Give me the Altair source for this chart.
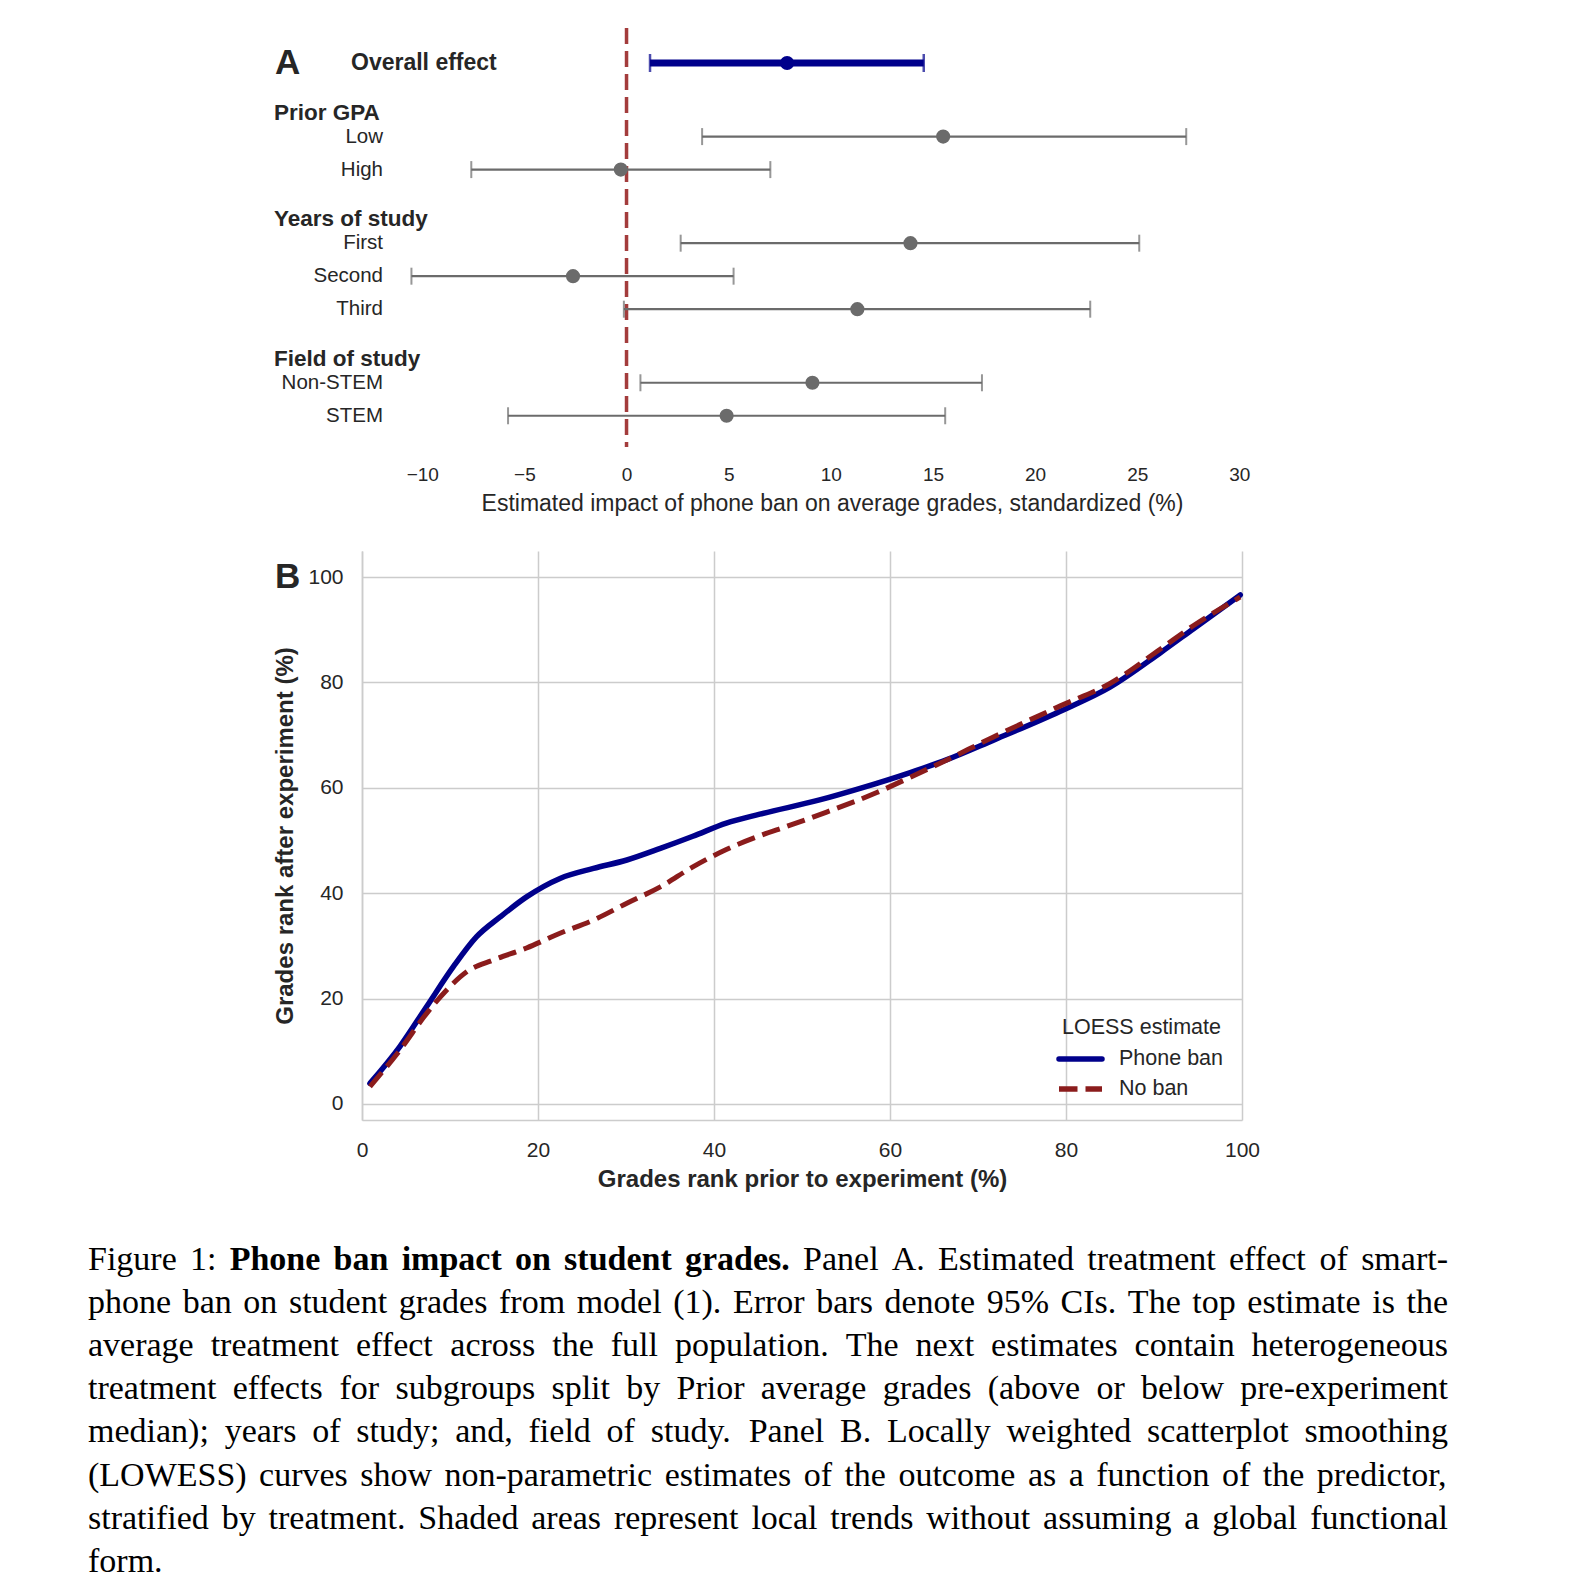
import altair as alt
import pandas as pd

# ---------------- Panel A data ----------------
overall_label = "Overall effect"
overall_est = 7.86
overall_lo = 1.15
overall_hi = 14.55

group_names = ["Prior GPA", "Years of study", "Field of study"]
group_rows = [["Low", "High"], ["First", "Second", "Third"], ["Non-STEM", "STEM"]]
group_est = [[15.5, -0.28], [13.9, -2.62, 11.3], [9.1, 4.9]]
group_lo = [[3.7, -7.6], [2.65, -10.53, -0.13], [0.68, -5.8]]
group_hi = [[27.4, 7.04], [25.1, 5.24, 22.7], [17.4, 15.6]]
x_ticks_a = [-10, -5, 0, 5, 10, 15, 20, 25, 30]
x_title_a = "Estimated impact of phone ban on average grades, standardized (%)"

# ---------------- Panel B data ----------------
phone_x = [0.9, 4.3, 7.35, 10.4, 13.0, 15.7, 18.7, 22.5, 26.3, 30.1, 33.9, 37.6, 41.4,
           45.2, 52.0, 56.6, 62.3, 66.4, 71.7, 79.3, 85.0, 90.7, 94.5, 99.8]
phone_y = [3.9, 10.9, 18.5, 26.1, 31.7, 35.5, 39.3, 42.8, 44.7, 46.3, 48.5, 50.8, 53.3,
           55.0, 57.7, 59.9, 62.9, 65.3, 69.0, 74.5, 79.1, 85.6, 90.2, 96.6]
noban_x = [0.9, 4.3, 7.35, 9.6, 11.9, 14.9, 18.7, 22.5, 26.3, 30.1, 33.9, 37.6, 41.4,
           45.2, 48.3, 52.8, 58.5, 62.3, 66.1, 71.7, 79.3, 85.0, 90.7, 94.5, 99.8]
noban_y = [3.3, 10.2, 17.2, 21.6, 25.1, 27.3, 29.6, 32.4, 34.9, 38.1, 41.2, 45.0, 48.3,
           50.9, 52.7, 55.4, 59.1, 62.0, 65.0, 69.6, 75.5, 79.8, 86.3, 90.8, 96.2]
axis_ticks_b = [0, 20, 40, 60, 80, 100]
x_title_b = "Grades rank prior to experiment (%)"
y_title_b = "Grades rank after experiment (%)"
legend_title = "LOESS estimate"
legend_labels = ["Phone ban", "No ban"]

caption_lines = [
    [("Figure", 0), ("1:", 0), ("Phone", 1), ("ban", 1), ("impact", 1), ("on", 1), ("student", 1),
     ("grades.", 1), ("Panel", 0), ("A.", 0), ("Estimated", 0), ("treatment", 0), ("effect", 0),
     ("of", 0), ("smart-", 0)],
    "phone ban on student grades from model (1). Error bars denote 95% CIs. The top estimate is the",
    "average treatment effect across the full population. The next estimates contain heterogeneous",
    "treatment effects for subgroups split by Prior average grades (above or below pre-experiment",
    "median); years of study; and, field of study. Panel B. Locally weighted scatterplot smoothing",
    "(LOWESS) curves show non-parametric estimates of the outcome as a function of the predictor,",
    "stratified by treatment. Shaded areas represent local trends without assuming a global functional",
    "form.",
]

# ---------------- styles ----------------
SANS = "Liberation Sans"
SERIF = "Liberation Serif"
TXT = "#262626"
BLUE = "#00008b"
RED = "#8b1c1c"
ZERO = "#a33c3c"
GRAY = "#6b6b6b"
GRID = "#cccccc"

W = 880
HA = 419
HB = 569

# ---------------- Panel A ----------------
GROUP_GAP, ROW_STEP, HEADER_OFF = 2.23, 1.0, 0.72
rows, headers = [], []
pos = 0.0
rows.append(dict(label=overall_label, est=overall_est, lo=overall_lo, hi=overall_hi, pos=0.0, kind="overall"))
for g, labs, es, los, his in zip(group_names, group_rows, group_est, group_lo, group_hi):
    pos += GROUP_GAP
    headers.append(dict(text=g, pos=pos - HEADER_OFF))
    for j, (lab, e, lo, hi) in enumerate(zip(labs, es, los, his)):
        if j > 0:
            pos += ROW_STEP
        rows.append(dict(label=lab, est=e, lo=lo, hi=hi, pos=pos, kind="sub"))
df_rows = pd.DataFrame(rows)
df_sub = df_rows[df_rows.kind == "sub"]
df_all = df_rows[df_rows.kind == "overall"]
df_head = pd.DataFrame(headers)
df_zero = pd.DataFrame({"v": [0]})

ymin_a = -35 / 33
ymax_a = ymin_a + HA / 33
ya = alt.Y("pos:Q", scale=alt.Scale(domain=[ymin_a, ymax_a], reverse=True, nice=False, zero=False), axis=None)
xscale_a = alt.Scale(domain=[-12.95, 30.13], nice=False, zero=False)
xaxis_a = alt.Axis(values=x_ticks_a, domain=False, ticks=False, tickSize=0, grid=False, labelFlush=False,
                   labelFontSize=19, labelPadding=18, labelColor=TXT, labelFont=SANS,
                   format="d", title=x_title_a, titleFontSize=23, titleFontWeight="normal",
                   titleColor=TXT, titleFont=SANS, titleX=470, titleY=56, titleBaseline="middle",
                   titleAlign="center")

def xa(field):
    return alt.X(f"{field}:Q", scale=xscale_a, axis=xaxis_a, title=x_title_a)

zero_line = alt.Chart(df_zero).mark_rule(color=ZERO, strokeWidth=3.5, strokeDash=[16, 7]).encode(x=xa("v"))

sub_ci = alt.Chart(df_sub).mark_rule(color=GRAY, strokeWidth=2.2).encode(x=xa("lo"), x2="hi", y=ya)
sub_cap_lo = alt.Chart(df_sub).mark_tick(color=GRAY, orient="vertical", size=17, thickness=2).encode(x=xa("lo"), y=ya)
sub_cap_hi = alt.Chart(df_sub).mark_tick(color=GRAY, orient="vertical", size=17, thickness=2).encode(x=xa("hi"), y=ya)
sub_pt = alt.Chart(df_sub).mark_point(filled=True, shape="circle", size=200, color=GRAY, opacity=1).encode(x=xa("est"), y=ya)

all_ci = alt.Chart(df_all).mark_rule(color=BLUE, strokeWidth=7).encode(x=xa("lo"), x2="hi", y=ya)
all_cap_lo = alt.Chart(df_all).mark_tick(color=BLUE, orient="vertical", size=18, thickness=2.5).encode(x=xa("lo"), y=ya)
all_cap_hi = alt.Chart(df_all).mark_tick(color=BLUE, orient="vertical", size=18, thickness=2.5).encode(x=xa("hi"), y=ya)
all_pt = alt.Chart(df_all).mark_point(filled=True, shape="circle", size=200, color=BLUE, opacity=1).encode(x=xa("est"), y=ya)

sub_text = alt.Chart(df_sub).mark_text(align="right", baseline="middle", font=SANS, fontSize=20.5, color=TXT).encode(
    x=alt.value(21), y=ya, text="label:N")
head_text = alt.Chart(df_head).mark_text(align="left", baseline="middle", font=SANS, fontSize=22.5,
                                         fontWeight="bold", color=TXT).encode(x=alt.value(-88), y=ya, text="text:N")
all_text = alt.Chart(df_all).mark_text(align="left", baseline="middle", font=SANS, fontSize=23,
                                       fontWeight="bold", color=TXT).encode(x=alt.value(-11), y=ya, text="label:N")
letter_a = alt.Chart(df_all).mark_text(align="left", baseline="middle", font=SANS, fontSize=35,
                                       fontWeight="bold", color=TXT, text="A").encode(x=alt.value(-87), y=ya)

panel_a = alt.layer(zero_line, sub_ci, sub_cap_lo, sub_cap_hi, sub_pt, all_ci, all_cap_lo, all_cap_hi, all_pt,
                    sub_text, head_text, all_text, letter_a).properties(width=W, height=HA)

# ---------------- Panel B ----------------
ymin_b, ymax_b = -3.04, 104.94
xscale_b = alt.Scale(domain=[0, 100], nice=False, zero=False)
yscale_b = alt.Scale(domain=[ymin_b, ymax_b], nice=False, zero=False)
xaxis_b = alt.Axis(values=axis_ticks_b, grid=True, gridColor=GRID, gridWidth=1.5, domain=True,
                   domainColor=GRID, domainWidth=1.5, ticks=False, tickSize=0, labelFontSize=21,
                   labelFlush=False, labelOverlap=False,
                   labelPadding=19, labelColor=TXT, labelFont=SANS, title=x_title_b, titleFontSize=24,
                   titleFontWeight="bold", titleColor=TXT, titleFont=SANS, titleY=59, titleBaseline="middle",
                   titleX=W / 2, titleAlign="center")
yaxis_b = alt.Axis(values=axis_ticks_b, grid=True, gridColor=GRID, gridWidth=1.5, domain=True,
                   domainColor=GRID, domainWidth=1.5, ticks=False, tickSize=0, labelFontSize=21,
                   labelFlush=False, labelOverlap=False,
                   labelPadding=19, labelColor=TXT, labelFont=SANS, title=y_title_b, titleFontSize=24,
                   titleFontWeight="bold", titleColor=TXT, titleFont=SANS, titleX=-77, titleY=HB / 2,
                   titleBaseline="middle", titleAlign="center", titleAngle=270)

df_phone = pd.DataFrame({"x": phone_x, "y": phone_y})
df_noban = pd.DataFrame({"x": noban_x, "y": noban_y})

def xb(field):
    return alt.X(f"{field}:Q", scale=xscale_b, axis=xaxis_b, title=x_title_b)

def yb(field):
    return alt.Y(f"{field}:Q", scale=yscale_b, axis=yaxis_b, title=y_title_b)

line_phone = alt.Chart(df_phone).mark_line(color=BLUE, strokeWidth=5.5, strokeCap="round",
                                           interpolate="monotone").encode(x=xb("x"), y=yb("y"))
line_noban = alt.Chart(df_noban).mark_line(color=RED, strokeWidth=5, strokeDash=[18.5, 8],
                                           interpolate="monotone").encode(x=xb("x"), y=yb("y"))

layers_b = [line_phone, line_noban]

# legend (drawn in pixel space)
layers_b.append(alt.Chart(df_zero).mark_text(align="left", baseline="middle", font=SANS, fontSize=21.5,
                                             color=TXT, text=legend_title).encode(x=alt.value(700), y=alt.value(477)))
leg_colors = [BLUE, RED]
leg_dash = [[1, 0], [18.5, 8]]
leg_caps = ["round", "butt"]
for i, (lab, col, dsh, cap) in enumerate(zip(legend_labels, leg_colors, leg_dash, leg_caps)):
    yy = 508 + 30 * i
    layers_b.append(alt.Chart(df_zero).mark_rule(color=col, strokeWidth=5.5, strokeDash=dsh, strokeCap=cap).encode(
        x=alt.value(697), x2=alt.value(740), y=alt.value(yy)))
    layers_b.append(alt.Chart(df_zero).mark_text(align="left", baseline="middle", font=SANS, fontSize=21.5,
                                                 color=TXT, text=lab).encode(x=alt.value(757), y=alt.value(yy)))

layers_b.append(alt.Chart(df_zero).mark_text(align="left", baseline="middle", font=SANS, fontSize=35,
                                             fontWeight="bold", color=TXT, text="B").encode(x=alt.value(-87), y=alt.value(26)))

# caption: words laid out with Times metrics and justified across the text width
TR = {' ': 250, '!': 333, '%': 833, '(': 333, ')': 333, ',': 250, '-': 333, '.': 250, ':': 278, ';': 278,
      'A': 722, 'B': 667, 'C': 667, 'D': 722, 'E': 611, 'F': 556, 'G': 722, 'H': 722, 'I': 333, 'J': 389,
      'K': 722, 'L': 611, 'M': 889, 'N': 722, 'O': 722, 'P': 556, 'Q': 722, 'R': 667, 'S': 556, 'T': 611,
      'U': 722, 'V': 722, 'W': 944, 'X': 722, 'Y': 722, 'Z': 611,
      'a': 444, 'b': 500, 'c': 444, 'd': 500, 'e': 444, 'f': 333, 'g': 500, 'h': 500, 'i': 278, 'j': 278,
      'k': 500, 'l': 278, 'm': 778, 'n': 500, 'o': 500, 'p': 500, 'q': 500, 'r': 333, 's': 389, 't': 278,
      'u': 500, 'v': 500, 'w': 722, 'x': 500, 'y': 500, 'z': 444}
TB = {' ': 250, '.': 250, 'P': 611, 'a': 500, 'b': 556, 'c': 444, 'd': 556, 'e': 444, 'f': 333, 'g': 500,
      'h': 556, 'i': 278, 'm': 833, 'n': 556, 'o': 500, 'p': 556, 'r': 444, 's': 389, 't': 333, 'u': 556}
CAP_FS = 34
CAP_X0 = -274
CAP_W = 1360
CAP_Y0 = 708.5
CAP_DY = 43.2

def wwidth(word, bold):
    tab = TB if bold else TR
    return sum(tab.get(ch, TR.get(ch, 500)) for ch in word) * CAP_FS / 1000.0

words = []
for li, line in enumerate(caption_lines):
    toks = line if isinstance(line, list) else [(w, 0) for w in line.split(" ")]
    widths = [wwidth(w, b) for w, b in toks]
    last = li == len(caption_lines) - 1
    gap = 250 * CAP_FS / 1000.0 if (last or len(toks) < 2) else (CAP_W - sum(widths)) / (len(toks) - 1)
    px = CAP_X0
    py = CAP_Y0 + li * CAP_DY
    for (w, b), wd in zip(toks, widths):
        words.append(dict(word=w, bold=b, cx=px * 100.0 / W, cy=ymax_b - py * (ymax_b - ymin_b) / HB))
        px += wd + gap
df_words = pd.DataFrame(words)

for b, weight in [(0, "normal"), (1, "bold")]:
    layers_b.append(alt.Chart(df_words[df_words.bold == b]).mark_text(
        align="left", baseline="middle", font=SERIF, fontSize=CAP_FS, fontWeight=weight, color="#000000").encode(
        x=xb("cx"), y=yb("cy"), text="word:N"))

panel_b = alt.layer(*layers_b).properties(width=W, height=HB)

chart = alt.vconcat(panel_a, panel_b, spacing=36).properties(
    padding={"left": 80, "top": 18, "right": 10, "bottom": 5},
    background="white",
).configure_view(stroke=None)

chart.save("out.html", embed_options={"renderer": "svg", "actions": False})
